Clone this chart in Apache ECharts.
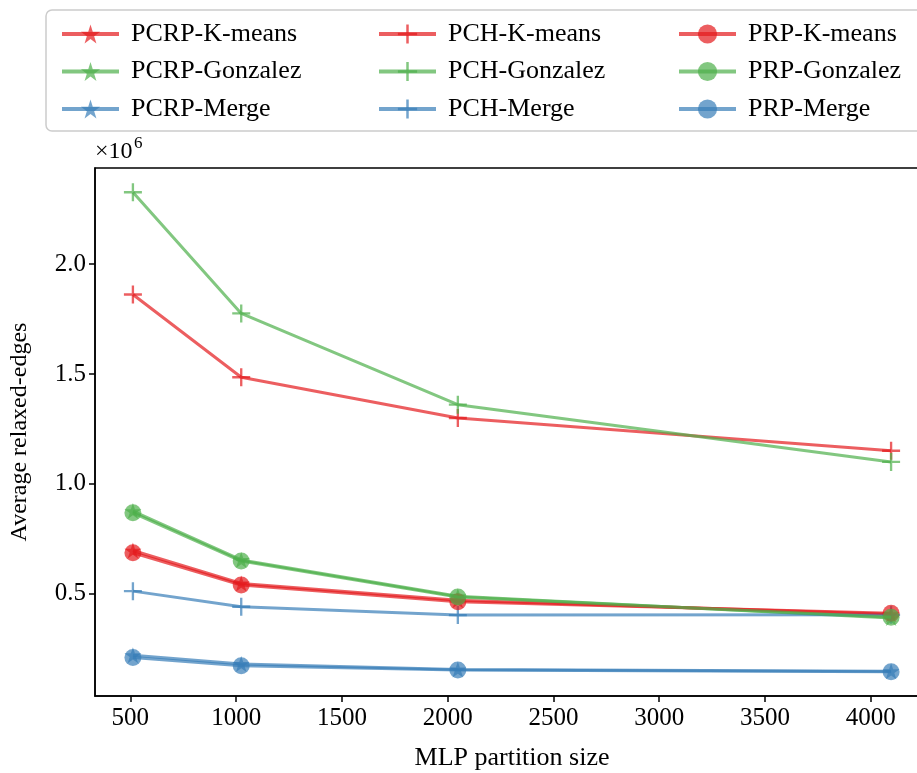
<!DOCTYPE html>
<html>
<head>
<meta charset="utf-8">
<script src="https://cdn.jsdelivr.net/npm/echarts@6/dist/echarts.min.js"></script>
<style>html,body{margin:0;padding:0;background:#fff}#c{width:917px;height:773px}</style>
</head>
<body>
<div id="c"></div>
<script>
// ---- data (values in units of 1e6) ----
const partitionSizes = [512, 1024, 2048, 4096];
const xTicks = [500, 1000, 1500, 2000, 2500, 3000, 3500, 4000];
const yTicks = [0.5, 1.0, 1.5, 2.0];
const seriesNames = ['PCRP-K-means','PCRP-Gonzalez','PCRP-Merge','PCH-K-means','PCH-Gonzalez','PCH-Merge','PRP-K-means','PRP-Gonzalez','PRP-Merge'];
const pcrpKmeans   = [0.695, 0.545, 0.468, 0.405];
const pcrpGonzalez = [0.875, 0.652, 0.487, 0.388];
const pcrpMerge    = [0.218, 0.178, 0.153, 0.145];
const pchKmeans    = [1.862, 1.485, 1.299, 1.150];
const pchGonzalez  = [2.328, 1.776, 1.360, 1.099];
const pchMerge     = [0.510, 0.439, 0.401, 0.402];
const prpKmeans    = [0.685, 0.538, 0.462, 0.409];
const prpGonzalez  = [0.867, 0.647, 0.483, 0.391];
const prpMerge     = [0.207, 0.170, 0.150, 0.143];
const seriesValues = [pcrpKmeans, pcrpGonzalez, pcrpMerge, pchKmeans, pchGonzalez, pchMerge, prpKmeans, prpGonzalez, prpMerge];

// ---- styles ----
const FONT = 'Liberation Serif';
const colors = ['rgba(228,26,28,0.7)','rgba(77,175,74,0.7)','rgba(55,126,184,0.7)'];
const STAR = 'path://M0,-1 L0.2245,-0.309 L0.951,-0.309 L0.363,0.118 L0.588,0.809 L0,0.382 L-0.588,0.809 L-0.363,0.118 L-0.951,-0.309 L-0.2245,-0.309 Z';
const PLUS = 'path://M-0.13,-1 L0.13,-1 L0.13,-0.13 L1,-0.13 L1,0.13 L0.13,0.13 L0.13,1 L-0.13,1 L-0.13,0.13 L-1,0.13 L-1,-0.13 L-0.13,-0.13 Z';
const symbols = [STAR, PLUS, 'circle'];
const symSizes = [[17,16], 18, 17];

const series = seriesNames.map((name, i) => {
  const g = Math.floor(i / 3), c = i % 3;
  return {
    name, type: 'line', z: 2 + i,
    data: partitionSizes.map((x, k) => [x, seriesValues[i][k]]),
    symbol: symbols[g], symbolSize: symSizes[g], showSymbol: true,
    lineStyle: { color: colors[c], width: 3 },
    itemStyle: { color: colors[c], borderWidth: 0 },
    emphasis: { disabled: true },
    animation: false
  };
});

const legendCols = [55, 372, 672];
const legends = [0,1,2].map(j => ({
  data: seriesNames.slice(j*3, j*3+3),
  orient: 'vertical', left: legendCols[j], top: 16,
  itemWidth: 57, itemHeight: 24, itemGap: 11.5,
  lineStyle: { width: 4 },
  textStyle: { fontFamily: FONT, fontSize: 26, lineHeight: 25, color: '#000', padding: [0,0,0,7] },
  selectedMode: false
}));

const chart = echarts.init(document.getElementById('c'), null, { renderer: 'canvas' });
chart.setOption({
  animation: false,
  backgroundColor: '#fff',
  grid: { left: 95, top: 168, right: -12, bottom: 77, show: true, borderColor: '#000', borderWidth: 1.5, outerBoundsMode: 'none', containLabel: false },
  legend: legends,
  graphic: [
    { type: 'rect', z: -10, shape: { x: 46, y: 10, width: 900, height: 121, r: 6 }, style: { fill: '#fff', stroke: '#cccccc', lineWidth: 1.5 } },
    { type: 'text', left: 95, top: 140, style: { text: '×10', font: '24px "Liberation Serif"', fill: '#000' } },
    { type: 'text', left: 134, top: 135, style: { text: '6', font: '17px "Liberation Serif"', fill: '#000' } }
  ],
  xAxis: {
    type: 'value', min: 332.8, max: 4275.2,
    name: 'MLP partition size', nameLocation: 'middle', nameGap: 49,
    nameTextStyle: { fontFamily: FONT, fontSize: 26, color: '#000' },
    axisLine: { show: true, lineStyle: { color: '#000', width: 1.5 } },
    axisTick: { show: true, length: 6, lineStyle: { color: '#000', width: 1.5 }, customValues: xTicks },
    axisLabel: { fontFamily: FONT, fontSize: 25, color: '#000', margin: 10, customValues: xTicks, formatter: v => String(Math.round(v)) },
    splitLine: { show: false }
  },
  yAxis: {
    type: 'value', min: 0.032, max: 2.4387,
    name: 'Average relaxed-edges', nameLocation: 'middle', nameGap: 63,
    nameTextStyle: { fontFamily: FONT, fontSize: 24, color: '#000' },
    axisLine: { show: true, lineStyle: { color: '#000', width: 1.5 } },
    axisTick: { show: true, length: 6, lineStyle: { color: '#000', width: 1.5 }, customValues: yTicks },
    axisLabel: { fontFamily: FONT, fontSize: 25, color: '#000', margin: 9, customValues: yTicks, formatter: v => v.toFixed(1) },
    splitLine: { show: false }
  },
  series
});
</script>
</body>
</html>
